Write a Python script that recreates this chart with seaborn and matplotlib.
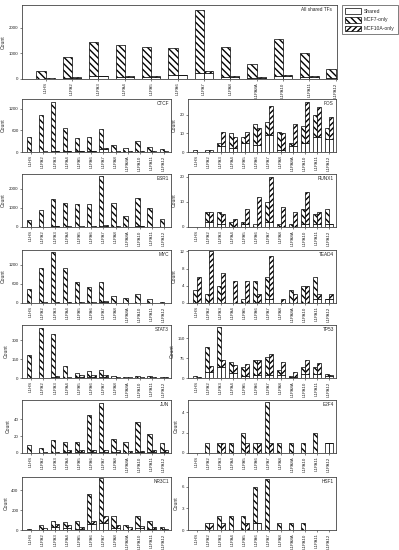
import numpy as np
import pandas as pd
import matplotlib
matplotlib.use("Agg")
import matplotlib.pyplot as plt
import seaborn as sns
from matplotlib.patches import Patch
from matplotlib.collections import LineCollection
from matplotlib.transforms import IdentityTransform

# L1 subfamilies on the x axis
categories = ["L1HS", "L1PA2", "L1PA3", "L1PA4", "L1PA5", "L1PA6", "L1PA7",
              "L1PA8", "L1PA8A", "L1PA10", "L1PA11", "L1PA12"]

# Counts per panel: shared, MCF7-only, MCF10A-only
all_shared = [5, 30, 100, 90, 90, 140, 220, 90, 40, 100, 80, 20]
all_mcf7 = [328, 816, 1360, 1256, 1153, 1065, 2485, 1153, 537, 1464, 933, 365]
all_mcf10a = [15, 30, 10, 20, 20, 30, 80, 40, 20, 70, 20, 20]

ctcf_shared = [5, 10, 15, 20, 15, 15, 90, 10, 5, 10, 10, 5]
ctcf_mcf7 = [410, 1024, 1388, 645, 373, 400, 556, 175, 105, 304, 128, 78]
ctcf_mcf10a = [5, 5, 5, 10, 25, 5, 10, 15, 10, 20, 10, 10]

fos_shared = [0, 0, 3, 2, 5, 4, 9, 1, 3, 5, 8, 7]
fos_mcf7 = [1, 1, 2, 8, 3, 11, 7, 10, 2, 9, 12, 6]
fos_mcf10a = [0, 1, 8, 6, 6, 9, 16, 9, 12, 22, 16, 12]

esr1_shared = [5, 15, 30, 20, 20, 25, 60, 20, 10, 30, 20, 5]
esr1_mcf7 = [340, 847, 1436, 1221, 1187, 1147, 2580, 1204, 576, 1487, 980, 392]
esr1_mcf10a = [5, 5, 10, 10, 10, 10, 20, 10, 5, 10, 5, 5]

runx1_shared = [0, 2, 1, 0, 1, 0, 2, 0, 0, 1, 1, 1]
runx1_mcf7 = [0, 4, 5, 2, 1, 1, 8, 1, 1, 6, 4, 6]
runx1_mcf10a = [0, 4, 4, 3, 6, 12, 18, 8, 6, 13, 5, 0]

myc_shared = [5, 10, 15, 10, 10, 10, 40, 5, 5, 5, 5, 2]
myc_mcf7 = [429, 1076, 1589, 1076, 631, 487, 612, 223, 150, 285, 119, 29]
myc_mcf10a = [5, 10, 10, 10, 10, 10, 12, 10, 5, 10, 5, 3]

tead4_shared = [0, 0, 0, 0, 0, 0, 1, 0, 0, 0, 1, 1]
tead4_mcf7 = [3, 2, 4, 0, 1, 5, 5, 0, 3, 4, 5, 0]
tead4_mcf10a = [6, 12, 7, 5, 5, 2, 10, 1, 2, 4, 1, 1]

stat3_shared = [1, 2, 5, 3, 5, 5, 8, 2, 2, 3, 3, 2]
stat3_mcf7 = [183, 398, 345, 94, 34, 53, 58, 16, 6, 15, 10, 6]
stat3_mcf10a = [1, 1, 13, 5, 16, 21, 18, 3, 3, 5, 5, 3]

tp53_shared = [0, 22, 41, 19, 8, 10, 10, 10, 3, 15, 15, 8]
tp53_mcf7 = [6, 94, 152, 41, 33, 59, 71, 21, 6, 26, 26, 7]
tp53_mcf10a = [3, 22, 28, 29, 45, 59, 81, 50, 19, 54, 41, 5]

jun_shared = [0, 0, 0, 1, 1, 1, 1, 1, 0, 1, 1, 1]
jun_mcf7 = [9, 6, 15, 12, 12, 44, 58, 16, 13, 36, 21, 11]
jun_mcf10a = [0, 1, 1, 2, 3, 2, 3, 2, 2, 1, 3, 2]

e2f4_shared = [0, 0, 0, 0, 0, 0, 0, 0, 0, 0, 0, 1]
e2f4_mcf7 = [0, 1, 1, 1, 2, 1, 5, 1, 1, 1, 2, 0]
e2f4_mcf10a = [0, 0, 1, 0, 1, 1, 1, 0, 0, 0, 0, 0]

nr3c1_shared = [1, 5, 30, 20, 10, 60, 70, 20, 5, 20, 10, 3]
nr3c1_mcf7 = [6, 47, 63, 59, 76, 302, 448, 125, 47, 125, 76, 25]
nr3c1_mcf10a = [1, 12, 32, 32, 24, 33, 68, 32, 29, 25, 18, 4]

hsf1_shared = [0, 0, 0, 0, 0, 1, 0, 0, 0, 0, 0, 0]
hsf1_mcf7 = [0, 1, 2, 2, 2, 5, 7, 1, 1, 1, 0, 0]
hsf1_mcf10a = [0, 1, 1, 0, 1, 0, 0, 0, 0, 0, 0, 0]

HATCH_MCF7 = "\\\\\\\\\\"
HATCH_MCF10A = "//////"
BAR_W = 0.35

sns.set_style("ticks")
plt.rcParams["font.family"] = ["Liberation Sans", "DejaVu Sans"]

W, H = 399, 550
fig = plt.figure(figsize=(W / 100, H / 100), dpi=100)

hatched_bars = []  # (axes, bar, direction) for the fallback hatching


def px_axes(left, top, right, bottom):
    return fig.add_axes([left / W, 1 - bottom / H, (right - left) / W, (bottom - top) / H])


# Two dodged stacked bars per L1 family: left = shared + MCF7-only,
# right = shared + MCF10A-only.
def draw_panel(ax, name, shared, mcf7, mcf10a, ymax, yticks, xlim):
    df = pd.DataFrame({
        "repeat": categories * 2,
        "group": ["MCF7"] * 12 + ["MCF10A"] * 12,
        "shared": list(shared) * 2,
    })
    # white shared base via seaborn's dodged barplot
    sns.barplot(data=df, x="repeat", y="shared", hue="group", order=categories,
                hue_order=["MCF7", "MCF10A"], palette=["white", "white"], saturation=1,
                edgecolor="black", linewidth=0.5, width=2 * BAR_W, errorbar=None,
                legend=False, ax=ax)
    pos = np.arange(len(categories))
    left_bars = ax.bar(pos - BAR_W / 2, mcf7, BAR_W, bottom=shared, facecolor="white",
                       edgecolor="black", linewidth=0.5, hatch=HATCH_MCF7)
    right_bars = ax.bar(pos + BAR_W / 2, mcf10a, BAR_W, bottom=shared, facecolor="white",
                        edgecolor="black", linewidth=0.5, hatch=HATCH_MCF10A)
    hatched_bars.extend((ax, b, "\\") for b in left_bars)
    hatched_bars.extend((ax, b, "/") for b in right_bars)

    ax.set_xlim(*xlim)
    ax.set_ylim(0, ymax)
    ax.set_yticks(yticks)
    ax.set_xticks(pos)
    ax.set_xticklabels(categories)
    ax.set_xlabel("")
    ax.set_ylabel("Count", fontsize=3.6, labelpad=2)
    ax.tick_params(axis="both", length=1.5, width=0.4, pad=1, labelsize=3.2)
    ax.tick_params(axis="x", rotation=90)
    for spine in ax.spines.values():
        spine.set_linewidth(0.6)
        spine.set_color("#444444")
    ax.text(0.985, 0.97, name, transform=ax.transAxes, ha="right", va="top", fontsize=3.4)
    return left_bars


top_ax = px_axes(22, 5, 337, 79)
top_left_bars = draw_panel(top_ax, "All shared TFs", all_shared, all_mcf7, all_mcf10a,
                           2900, [0, 1000, 2000], (-0.9, 11.05))

panels = [
    ("CTCF", ctcf_shared, ctcf_mcf7, ctcf_mcf10a, 1475, [0, 600, 1200]),
    ("FOS", fos_shared, fos_mcf7, fos_mcf10a, 28.5, [0, 10, 20]),
    ("ESR1", esr1_shared, esr1_mcf7, esr1_mcf10a, 2760, [0, 1000, 2000]),
    ("RUNX1", runx1_shared, runx1_mcf7, runx1_mcf10a, 21, [0, 10, 20]),
    ("MYC", myc_shared, myc_mcf7, myc_mcf10a, 1657, [0, 600, 1200]),
    ("TEAD4", tead4_shared, tead4_mcf7, tead4_mcf10a, 12.3, [0, 4, 8, 12]),
    ("STAT3", stat3_shared, stat3_mcf7, stat3_mcf10a, 421, [0, 150, 300]),
    ("TP53", tp53_shared, tp53_mcf7, tp53_mcf10a, 200, [0, 75, 150]),
    ("JUN", jun_shared, jun_mcf7, jun_mcf10a, 62.7, [0, 20, 40]),
    ("E2F4", e2f4_shared, e2f4_mcf7, e2f4_mcf10a, 5.2, [0, 2, 4]),
    ("NR3C1", nr3c1_shared, nr3c1_mcf7, nr3c1_mcf10a, 532, [0, 200, 400]),
    ("HSF1", hsf1_shared, hsf1_mcf7, hsf1_mcf10a, 7.33, [0, 3, 6]),
]

cols = [(22, 171), (188, 336)]
row_tops = [99, 174, 250, 325, 400, 477]

for k, (name, sh, m7, m10, ymax, yt) in enumerate(panels):
    left, right = cols[k % 2]
    top = row_tops[k // 2]
    ax = px_axes(left, top, right, top + 53)
    draw_panel(ax, name, sh, m7, m10, ymax, yt, (-0.75, 11.6))

handles = [
    Patch(facecolor="white", edgecolor="black", linewidth=0.5),
    Patch(facecolor="white", edgecolor="black", linewidth=0.5, hatch=HATCH_MCF7),
    Patch(facecolor="white", edgecolor="black", linewidth=0.5, hatch=HATCH_MCF10A),
]
leg = fig.legend(handles, ["Shared", "MCF7-only", "MCF10A-only"],
                 loc="upper left", bbox_to_anchor=(342 / W, 1 - 5 / H),
                 fontsize=3.6, frameon=True, fancybox=False, edgecolor="#444444",
                 handlelength=3.2, handleheight=1.4, borderpad=0.6, labelspacing=0.6,
                 handletextpad=0.6, borderaxespad=0)
leg.get_frame().set_linewidth(0.6)


# Check whether the hatch actually shows up inside the tallest bar;
# if not, draw the stripes ourselves, clipped to each bar.
def hatch_rendered(bar):
    fig.canvas.draw()
    img = np.asarray(fig.canvas.buffer_rgba())[..., :3]
    bb = bar.get_window_extent()
    r0, r1 = int(img.shape[0] - bb.y1) + 2, int(img.shape[0] - bb.y0) - 2
    c0, c1 = int(bb.x0) + 2, int(bb.x1) - 2
    region = img[r0:r1, c0:c1]
    return region.size > 0 and region.min() < 120


def stripe_bar(ax, bar, direction, spacing):
    bb = bar.get_window_extent()
    w, h = bb.width, bb.height
    if w < 1 or h < 1:
        return
    segs = []
    for c in np.arange(-w, h + spacing, spacing):
        if direction == "\\":
            segs.append([(bb.x0, bb.y0 + c + w), (bb.x1, bb.y0 + c)])
        else:
            segs.append([(bb.x0, bb.y0 + c), (bb.x1, bb.y0 + c + w)])
    lc = LineCollection(segs, colors="black", linewidths=0.6, transform=IdentityTransform())
    lc.set_clip_path(bar)
    ax.add_collection(lc, autolim=False)


if not hatch_rendered(top_left_bars[6]):
    for ax, bar, direction in hatched_bars:
        stripe_bar(ax, bar, direction, 3.3 if direction == "\\" else 2.8)

fig.savefig("out.png", dpi=100)
